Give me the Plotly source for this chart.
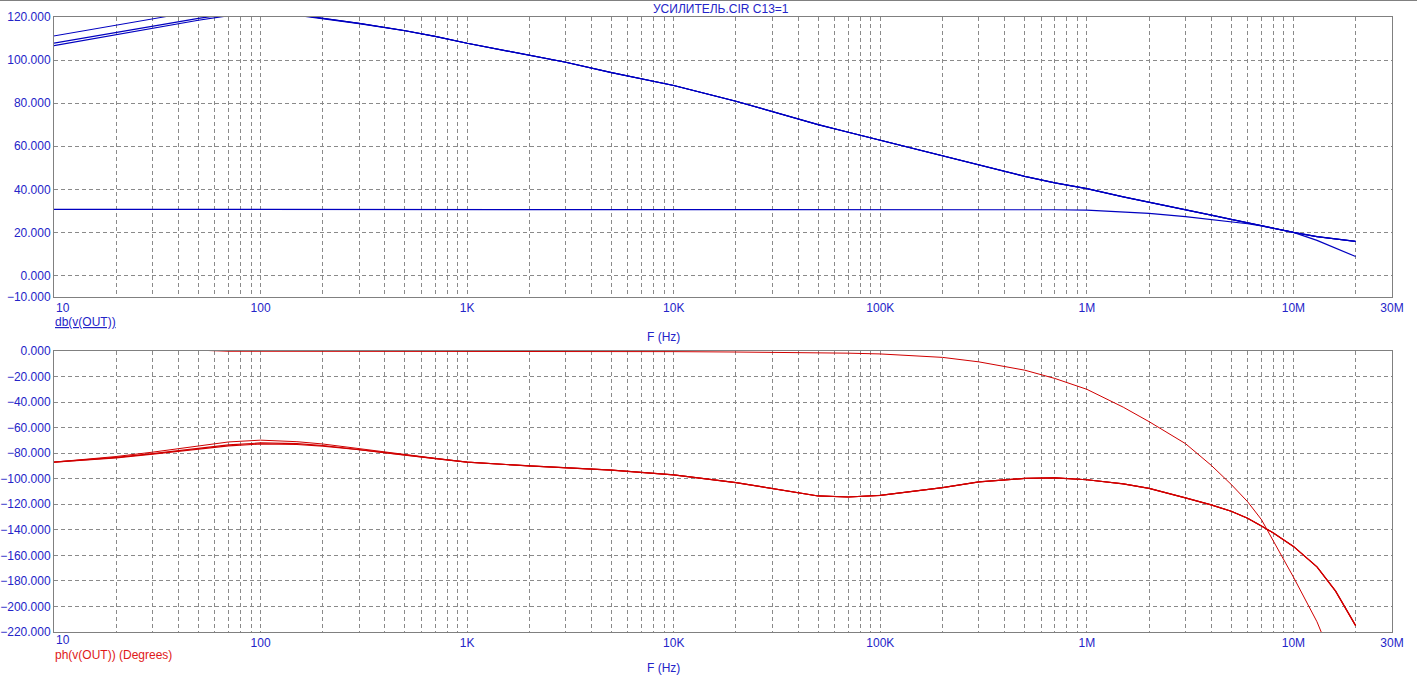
import plotly.graph_objects as go

# ---------------- data ----------------
freq = [10, 15, 20, 30, 40, 50, 70, 100, 150, 200, 300, 500, 700,
        1e3, 2e3, 3e3, 5e3, 1e4, 2e4, 5e4, 7e4, 1e5, 2e5, 3e5, 5e5, 7e5,
        1e6, 1.5e6, 2e6, 3e6, 4e6, 5e6, 6e6, 7e6, 8e6, 1e7, 1.3e7, 1.6e7, 2e7]

gain_a = [106.7, 109.7, 111.8, 114.8, 116.9, 118.5, 120.6, 121.8, 120.8, 119.2, 116.9, 113.6, 111.0,
          107.8, 102.3, 99.0, 94.2, 88.2, 80.9, 70.0, 66.5, 62.8, 55.5, 51.2, 46.0, 43.0,
          40.3, 36.5, 34.1, 30.6, 28.0, 26.0, 24.4, 23.0, 21.9, 20.0, 18.0, 16.8, 15.8]
gain_b = [107.9, 110.8, 112.9, 115.8, 117.9, 119.4, 121.3, 122.3, 121.1, 119.4, 117.0, 113.6, 111.0,
          107.8, 102.3, 99.0, 94.2, 88.2, 80.9, 70.0, 66.5, 62.8, 55.5, 51.2, 46.0, 43.0,
          40.3, 36.5, 34.1, 30.6, 28.0, 26.0, 24.4, 23.0, 21.9, 20.0, 18.0, 16.8, 15.8]
gain_c = [111.2, 114.2, 116.3, 119.3, 121.2, 122.6, 124.0, 123.6, 121.0, 119.4, 117.1, 113.7, 111.0,
          107.8, 102.3, 99.0, 94.2, 88.2, 80.9, 70.0, 66.5, 62.8, 55.5, 51.2, 46.0, 43.0,
          40.3, 36.5, 34.1, 30.6, 28.0, 26.0, 24.4, 23.0, 21.9, 20.0, 18.0, 16.8, 15.8]
gain_flat = [30.7, 30.7, 30.7, 30.7, 30.7, 30.7, 30.7, 30.7, 30.7, 30.7, 30.7, 30.7, 30.7,
             30.7, 30.7, 30.7, 30.7, 30.7, 30.7, 30.7, 30.7, 30.7, 30.7, 30.7, 30.6, 30.5,
             30.3, 29.6, 28.8, 27.3, 26.0, 25.0, 24.0, 23.0, 22.0, 20.0, 16.3, 12.8, 8.8]

phase_a = [-87.0, -85.2, -83.6, -80.8, -78.5, -76.7, -74.3, -72.8, -73.2, -74.5, -77.3, -81.5, -84.2,
           -87.0, -90.0, -91.2, -93.2, -97.0, -103.0, -113.5, -114.3, -113.0, -107.0, -102.5, -99.8, -99.3,
           -100.8, -104.0, -107.5, -115.0, -120.5, -125.5, -131.0, -137.0, -142.5, -153.0, -169.0, -188.0, -215.0]
phase_b = [-87.0, -85.0, -83.3, -80.3, -77.9, -76.0, -73.5, -72.0, -72.5, -74.0, -77.0, -81.3, -84.2,
           -87.0, -90.0, -91.2, -93.2, -97.0, -103.0, -113.5, -114.3, -113.0, -107.0, -102.5, -99.8, -99.3,
           -100.8, -104.0, -107.5, -115.0, -120.5, -125.5, -131.0, -137.0, -142.5, -153.0, -169.0, -188.0, -215.0]
phase_c = [-87.0, -84.6, -82.6, -79.2, -76.4, -74.2, -71.2, -69.8, -71.0, -72.8, -76.2, -81.0, -84.0,
           -87.0, -90.0, -91.2, -93.2, -97.0, -103.0, -113.5, -114.3, -113.0, -107.0, -102.5, -99.8, -99.3,
           -100.8, -104.0, -107.5, -115.0, -120.5, -125.5, -131.0, -137.0, -142.5, -153.0, -169.0, -188.0, -215.0]
phase_flat = [6.0, 4.0, 3.0, 2.0, 1.2, 0.6, -0.2, -0.2, -0.2, -0.2, -0.2, -0.2, -0.2,
              -0.3, -0.3, -0.3, -0.4, -0.5, -0.8, -1.3, -1.7, -2.3, -5.0, -8.5, -15.0, -21.5,
              -30.0, -44.0, -55.3, -72.5, -89.5, -104.5, -118.0, -132.0, -149.0, -177.0, -212.0, -245.0, -285.0]

# axis ticks
decade_vals = [10, 100, 1e3, 1e4, 1e5, 1e6, 1e7, 3e7]
decade_text = ["", "100", "1K", "10K", "100K", "1M", "10M", "30M"]
gain_ticks = [-10, 0, 20, 40, 60, 80, 100, 120]
phase_ticks = [0, -20, -40, -60, -80, -100, -120, -140, -160, -180, -200, -220]

title_text = "УСИЛИТЕЛЬ.CIR C13=1"
gain_label = "db(v(OUT))"
phase_label = "ph(v(OUT)) (Degrees)"
x_label = "F (Hz)"

# ---------------- styling ----------------
W, H = 1417, 675
BLUE_TXT = "#2424C8"
BLUE_LINE = "#0000C0"
RED_LINE = "#D00000"
RED_TXT = "#E01818"
GRID = "#8A8A8A"
FRAME = "#808080"
FONT = "Liberation Sans, Arial, sans-serif"

# grid positions: 1..9 x each decade up to 20M
grid_vals = []
for d in range(1, 8):
    for m in range(1, 10):
        v = m * 10 ** d
        if v <= 2e7:
            grid_vals.append(v)
grid_vals.append(3e7)
grid_text = []
for v in grid_vals:
    if v in decade_vals:
        grid_text.append(decade_text[decade_vals.index(v)])
    else:
        grid_text.append("")

def px_x(p):
    return p / W

def px_y(p):
    return 1 - p / H

xdom = [px_x(54), px_x(1392)]
ydom_top = [px_y(297), px_y(17)]
ydom_bot = [px_y(632), px_y(351)]

fig = go.Figure()

for g, w in [(gain_flat, 1.2), (gain_a, 1.2), (gain_b, 1.2), (gain_c, 1.0)]:
    fig.add_trace(go.Scatter(x=freq, y=g, mode="lines", xaxis="x", yaxis="y",
                             line=dict(color=BLUE_LINE, width=w), showlegend=False,
                             hoverinfo="skip"))
for p, w in [(phase_flat, 1.0), (phase_a, 1.2), (phase_b, 1.2), (phase_c, 1.0)]:
    fig.add_trace(go.Scatter(x=freq, y=p, mode="lines", xaxis="x2", yaxis="y2",
                             line=dict(color=RED_LINE, width=w), showlegend=False,
                             hoverinfo="skip"))

xcommon = dict(type="log", range=[1, 7.4771], tickmode="array", tickvals=grid_vals,
               ticktext=grid_text, showgrid=True, gridcolor=GRID, griddash="4px,3px",
               gridwidth=1, showline=True, linecolor=FRAME, linewidth=1, mirror=True,
               ticks="", zeroline=False, tickfont=dict(family=FONT, size=12, color=BLUE_TXT),
               automargin=False, layer="below traces", fixedrange=True)
ycommon = dict(tickmode="array", tickformat=".3f", showgrid=True, gridcolor=GRID,
               griddash="4px,3px", gridwidth=1, showline=True, linecolor=FRAME,
               linewidth=1, mirror=True, ticks="", zeroline=False,
               tickfont=dict(family=FONT, size=12, color=BLUE_TXT), automargin=False,
               layer="below traces", fixedrange=True)

fig.update_layout(
    width=W, height=H,
    margin=dict(l=0, r=0, t=0, b=0),
    paper_bgcolor="white", plot_bgcolor="white",
    template="none",
    showlegend=False,
    xaxis=dict(xcommon, domain=xdom, anchor="y"),
    yaxis=dict(ycommon, domain=ydom_top, anchor="x", range=[-10, 120], tickvals=gain_ticks),
    xaxis2=dict(xcommon, domain=xdom, anchor="y2"),
    yaxis2=dict(ycommon, domain=ydom_bot, anchor="x2", range=[-220, 0], tickvals=phase_ticks),
)

ann = []
ann.append(dict(text=title_text, x=px_x(721), y=px_y(9), xref="paper", yref="paper",
                xanchor="center", yanchor="middle", showarrow=False,
                font=dict(family=FONT, size=12, color=BLUE_TXT)))
# left-aligned "10" labels
for yy in (308, 640):
    ann.append(dict(text="10", x=1, y=px_y(yy), xref="x", yref="paper",
                    xanchor="left", yanchor="middle", showarrow=False,
                    font=dict(family=FONT, size=12, color=BLUE_TXT)))
ann.append(dict(text="<u>" + gain_label + "</u>", x=px_x(53), y=px_y(322), xref="paper", yref="paper",
                xanchor="left", yanchor="middle", showarrow=False,
                font=dict(family=FONT, size=12, color=BLUE_TXT)))
ann.append(dict(text=phase_label, x=px_x(53), y=px_y(655), xref="paper", yref="paper",
                xanchor="left", yanchor="middle", showarrow=False,
                font=dict(family=FONT, size=12, color=RED_TXT)))
for yy in (337, 668):
    ann.append(dict(text=x_label, x=px_x(663), y=px_y(yy), xref="paper", yref="paper",
                    xanchor="center", yanchor="middle", showarrow=False,
                    font=dict(family=FONT, size=12, color=BLUE_TXT)))
fig.update_layout(annotations=ann)

fig.add_shape(type="line", xref="paper", yref="paper", x0=0, x1=1, y0=px_y(0.5), y1=px_y(0.5),
              line=dict(color=FRAME, width=1))

fig.write_html("out.html", config={"displayModeBar": False},
               post_script="document.body.style.margin='0';document.body.style.padding='0';")
